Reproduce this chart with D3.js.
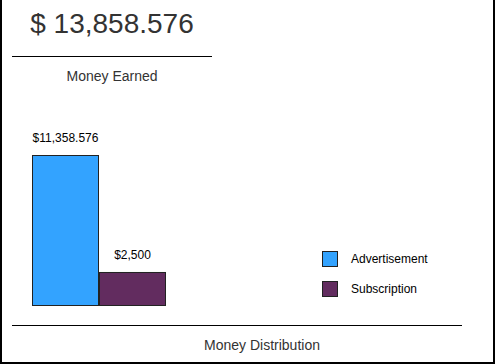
<!DOCTYPE html>
<html><head><meta charset="utf-8">
<script src="https://cdn.jsdelivr.net/npm/d3@7"></script>
<style>html,body{margin:0;padding:0;background:#fff;}svg{display:block;font-family:Arial,"Liberation Sans",sans-serif;}</style>
</head><body>
<svg id="c" width="495" height="364"></svg>
<script>
const categories = ["Advertisement", "Subscription"];
const values = [11358.576, 2500];
const valueLabels = ["$11,358.576", "$2,500"];
const colors = ["#33a3ff", "#622c5f"];
const totalLabel = "$ 13,858.576";
const topTitle = "Money Earned";
const bottomTitle = "Money Distribution";

const svg = d3.select("#c");
// frame (left, right, bottom)
svg.append("path").attr("d","M1,0V363H494V0").attr("fill","none").attr("stroke","#000").attr("stroke-width",2);

svg.append("text").attr("x",112).attr("y",33).attr("text-anchor","middle")
  .attr("font-size",28).attr("fill","#333").text(totalLabel);
svg.append("line").attr("x1",12).attr("x2",212).attr("y1",56.5).attr("y2",56.5).attr("stroke","#000");
svg.append("text").attr("x",112).attr("y",81).attr("text-anchor","middle")
  .attr("font-size",14).attr("fill","#333").text(topTitle);

const x = d3.scaleBand().domain(categories).range([32,166]).padding(0);
const y = d3.scaleLinear().domain([0, d3.max(values)]).range([305,155]);

const g = svg.append("g");
g.selectAll("rect").data(categories).join("rect")
  .attr("x", d=>x(d)+0.5).attr("y", (d,i)=>y(values[i])+0.5)
  .attr("width", x.bandwidth()-1).attr("height",(d,i)=>y(0)-y(values[i]))
  .attr("fill",(d,i)=>colors[i]).attr("stroke","#222").attr("stroke-width",1);
g.selectAll("text.v").data(categories).join("text").attr("class","v")
  .attr("x", d=>x(d)+x.bandwidth()/2).attr("y",(d,i)=>y(values[i])-13)
  .attr("text-anchor","middle").attr("font-size",12).attr("fill","#000")
  .text((d,i)=>valueLabels[i]);

const lg = svg.append("g");
categories.forEach((c,i)=>{
  lg.append("rect").attr("x",322.5).attr("y",251.5+i*30).attr("width",15).attr("height",15)
    .attr("fill",colors[i]).attr("stroke","#222");
  lg.append("text").attr("x",351).attr("y",263+i*30).attr("font-size",12).attr("fill","#000").text(c);
});

svg.append("line").attr("x1",12).attr("x2",462).attr("y1",325.5).attr("y2",325.5).attr("stroke","#000");
svg.append("text").attr("x",262).attr("y",350).attr("text-anchor","middle")
  .attr("font-size",14).attr("fill","#333").text(bottomTitle);
</script>
</body></html>
